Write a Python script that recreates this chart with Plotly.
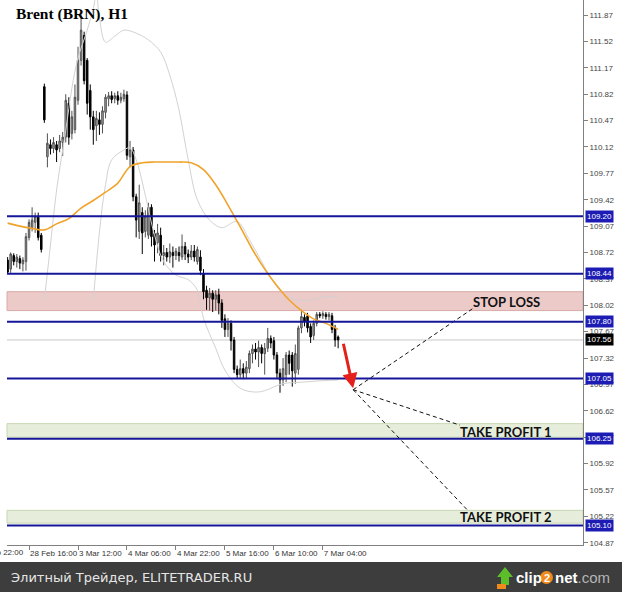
import plotly.graph_objects as go

# ---------------- data ----------------
bar_index = list(range(109))
opens = [108.62,108.50,108.68,108.60,108.64,108.57,108.60,108.92,109.05,109.12,
         109.19,108.95,110.92,109.99,110.15,110.10,110.15,110.10,110.18,110.25,
         110.70,110.30,110.35,110.74,111.27,111.60,111.27,110.87,110.52,110.40,
         110.48,110.42,110.58,110.76,110.80,110.76,110.80,110.74,110.76,110.81,
         109.99,110.08,109.46,109.00,109.25,109.00,108.95,109.32,108.97,108.85,
         108.95,108.68,108.72,108.66,108.72,108.68,108.72,108.66,108.80,108.70,
         108.66,108.74,108.60,108.66,108.44,108.22,108.12,108.18,108.10,108.16,
         108.05,107.84,107.70,107.78,107.56,107.17,107.10,107.18,107.12,107.18,
         107.38,107.44,107.40,107.46,107.38,107.45,107.58,107.55,107.36,107.12,
         107.03,107.10,107.36,107.36,107.12,107.17,107.72,107.86,107.88,107.74,
         107.62,107.78,107.90,107.88,107.90,107.87,107.88,107.72,107.60]
highs = [108.66,108.72,108.71,108.70,108.68,108.66,108.98,109.16,109.32,109.25,
         109.25,108.98,110.96,110.30,110.22,110.25,110.20,110.28,110.32,110.82,
         110.78,110.60,110.95,111.45,111.88,111.65,111.30,110.95,110.60,110.60,
         110.58,110.66,110.82,110.85,110.86,110.84,110.86,110.84,110.88,110.86,
         110.20,110.12,109.50,109.62,109.32,109.28,109.38,109.36,109.02,109.10,
         109.05,108.82,108.78,108.84,108.80,108.78,108.80,108.96,108.86,108.76,
         108.82,108.82,108.80,108.75,108.50,108.28,108.25,108.22,108.22,108.24,
         108.10,107.90,107.85,107.82,107.60,107.22,107.30,107.25,107.28,107.42,
         107.50,107.52,107.55,107.50,107.52,107.72,107.62,107.60,107.40,107.18,
         107.32,107.40,107.42,107.40,107.50,107.75,107.96,107.90,107.92,107.78,
         107.82,107.93,107.93,107.94,107.93,107.93,107.92,107.76,107.62]
lows = [108.44,108.45,108.55,108.52,108.50,108.47,108.48,108.88,109.00,108.98,
        108.88,108.72,110.44,109.85,110.02,110.04,109.92,110.05,110.00,110.18,
        110.15,110.22,110.30,110.68,111.20,110.95,110.55,110.35,110.15,110.20,
        110.28,110.30,110.50,110.66,110.70,110.70,110.68,110.70,110.72,109.95,
        109.85,109.40,108.92,108.90,108.70,108.92,108.90,108.80,108.60,108.71,
        108.60,108.55,108.60,108.58,108.52,108.62,108.60,108.62,108.62,108.58,
        108.62,108.60,108.56,108.42,108.10,107.96,107.95,107.93,107.95,107.90,
        107.72,107.60,107.60,107.42,107.12,107.05,107.05,107.04,107.05,107.12,
        107.25,107.30,107.20,107.25,107.10,107.40,107.45,107.30,107.05,106.86,
        106.95,107.00,107.10,106.94,106.98,107.10,107.65,107.74,107.66,107.52,
        107.56,107.74,107.85,107.84,107.83,107.82,107.65,107.47,107.45]
closes = [108.46,108.70,108.60,108.66,108.58,108.62,108.93,109.12,109.15,109.20,
          108.92,108.76,110.48,110.17,110.10,110.18,110.08,110.20,110.25,110.74,
          110.25,110.52,110.78,111.27,111.67,111.00,110.70,110.52,110.35,110.50,
          110.42,110.60,110.78,110.80,110.75,110.80,110.74,110.78,110.82,110.01,
          110.08,109.46,109.15,109.38,108.98,109.20,109.32,108.93,108.82,108.98,
          108.68,108.72,108.66,108.73,108.68,108.74,108.68,108.80,108.70,108.66,
          108.74,108.66,108.76,108.48,108.20,108.12,108.18,108.10,108.16,108.05,
          107.82,107.70,107.78,107.55,107.17,107.10,107.18,107.12,107.20,107.38,
          107.44,107.40,107.46,107.38,107.45,107.58,107.52,107.36,107.12,107.03,
          107.18,107.36,107.25,107.15,107.38,107.72,107.87,107.80,107.72,107.60,
          107.78,107.90,107.88,107.91,107.87,107.90,107.70,107.56,107.56]

ma_index = [0,4,8,12,16,20,24,28,32,36,40,44,48,52,56,60,64,68,72,76,80,84,88,92,96,100,104,108]
ma_values = [109.11,109.07,109.04,109.02,109.10,109.17,109.31,109.41,109.52,109.64,109.86,109.91,
             109.92,109.92,109.92,109.91,109.82,109.62,109.35,109.06,108.76,108.50,108.28,108.09,
             107.95,107.84,107.78,107.70]

upper_index = [12,14,16,19,21,23,26,28,29,30,32,35,38,42,46,50,53,56,59,62,66,70,75,79,83,87,92,99,104,108]
upper_values = [108.09,108.82,109.55,110.34,110.90,111.30,111.67,111.96,112.14,111.83,111.51,111.59,
                111.67,111.63,111.54,111.38,111.07,110.61,109.95,109.42,109.15,109.05,109.13,108.89,
                108.60,108.32,108.12,108.09,108.14,108.13]
lower_index = [28,30,32,34,38,40,42,45,48,51,55,59,62,64,68,71,76,82,90,96,103,108]
lower_values = [108.09,108.99,109.62,109.95,110.08,110.11,109.95,109.48,108.95,108.60,
                108.42,108.36,108.22,107.85,107.45,107.16,106.92,106.87,106.98,107.00,107.02,107.03]

level_values = [109.20, 108.44, 107.80, 107.05, 106.25, 105.10]
last_price = 107.56
stop_zone = [107.95, 108.20]
tp1_zone = [106.27, 106.45]
tp2_zone = [105.13, 105.30]

tick_prices = [111.87,111.52,111.17,110.82,110.47,110.12,109.77,109.42,109.07,108.72,108.37,
               108.02,107.67,107.32,106.97,106.62,106.27,105.92,105.57,105.22,104.87]
time_tick_index = [7, 23, 39, 55, 71, 87, 103]
time_tick_labels = ["28 Feb 16:00", "3 Mar 12:00", "4 Mar 06:00", "4 Mar 22:00",
                    "5 Mar 16:00", "6 Mar 10:00", "7 Mar 04:00"]
first_time_label = "27 Feb 22:00"

# trade plan: arrow and projections
arrow_from = (109.6, 107.53)
arrow_to = (112.9, 106.92)
fan_origin = (112.9, 106.90)
fan_targets = [(152.1, 107.98), (147.8, 106.43), (150.1, 105.31)]
plan_labels = ["STOP LOSS", "TAKE PROFIT 1", "TAKE PROFIT 2"]
plan_label_pos = [(162.9, 108.06), (162.9, 106.34), (162.9, 105.21)]

# ---------------- geometry ----------------
W, H = 622, 592
ML, MR, MT, MB = 7, 39, 0, 47
PW, PH = W - ML - MR, H - MT - MB
X_RANGE = [-0.2, 188.0]
Y_RANGE = [104.84, 112.07]

def px(xp):
    return (xp - ML) / PW

def py(yp):
    return (H - MB - yp) / PH

fig = go.Figure()

# Bollinger-type envelope
fig.add_trace(go.Scatter(x=upper_index, y=upper_values, mode="lines", line=dict(color="#d2d2d2", width=1, shape="spline"), hoverinfo="skip"))
fig.add_trace(go.Scatter(x=lower_index, y=lower_values, mode="lines", line=dict(color="#d2d2d2", width=1, shape="spline"), hoverinfo="skip"))

# candles
fig.add_trace(go.Candlestick(
    x=bar_index, open=opens, high=highs, low=lows, close=closes,
    increasing=dict(line=dict(color="#505050", width=1), fillcolor="#a8a8a8"),
    decreasing=dict(line=dict(color="#000000", width=1), fillcolor="#000000"),
    whiskerwidth=0, hoverinfo="skip"))

# moving average
fig.add_trace(go.Scatter(x=ma_index, y=ma_values, mode="lines", line=dict(color="#f0a32a", width=1.6, shape="spline"), hoverinfo="skip"))

# projections
fx, fy = [], []
for tx, ty in fan_targets:
    fx += [fan_origin[0], tx, None]
    fy += [fan_origin[1], ty, None]
fig.add_trace(go.Scatter(x=fx, y=fy, mode="lines", line=dict(color="#111111", width=1, dash="4px,3px"), hoverinfo="skip"))

shapes = []
# zones
for (lo, hi), fill, border in [(stop_zone, "#eccac8", "#d9aaa7"), (tp1_zone, "#e6eedb", "#c8d7b3"), (tp2_zone, "#e6eedb", "#c8d7b3")]:
    shapes.append(dict(type="rect", xref="paper", yref="y", x0=0, x1=1, y0=lo, y1=hi,
                       fillcolor=fill, line=dict(color=border, width=1), layer="below"))
# last price line
shapes.append(dict(type="line", xref="paper", yref="y", x0=0, x1=1, y0=last_price, y1=last_price,
                   line=dict(color="#c8c8c8", width=1), layer="below"))
# levels
for lv in level_values:
    shapes.append(dict(type="line", xref="paper", yref="y", x0=0, x1=1, y0=lv, y1=lv,
                       line=dict(color="#16169a", width=2), layer="above"))
# footer band
shapes.append(dict(type="rect", xref="paper", yref="paper", x0=px(0), x1=px(W), y0=py(H), y1=py(562),
                   fillcolor="#3d3d3d", line=dict(width=0), layer="above"))
# clip2net icon
icon = (f"M {px(505)},{py(567)} L {px(513)},{py(577)} L {px(509)},{py(577)} L {px(509)},{py(585)} "
        f"L {px(501)},{py(585)} L {px(501)},{py(577)} L {px(497)},{py(577)} Z")
shapes.append(dict(type="path", xref="paper", yref="paper", path=icon, fillcolor="#5cbf2a", line=dict(width=0), layer="above"))
shapes.append(dict(type="rect", xref="paper", yref="paper", x0=px(497), x1=px(506), y0=py(589), y1=py(584),
                   fillcolor="#f08a1c", line=dict(width=0), layer="above"))
shapes.append(dict(type="circle", xref="paper", yref="paper", x0=px(540), x1=px(553), y0=py(584), y1=py(571),
                   fillcolor="#f08a1c", line=dict(width=0), layer="above"))

annotations = []
# title
annotations.append(dict(xref="paper", yref="paper", x=px(14), y=py(3), xanchor="left", yanchor="top",
                        text="<b>Brent (BRN), H1</b>", showarrow=False,
                        font=dict(family="Liberation Serif", size=15.5, color="#000000")))
# red arrow
annotations.append(dict(x=arrow_to[0], y=arrow_to[1], ax=arrow_from[0], ay=arrow_from[1], xref="x", yref="y",
                        axref="x", ayref="y", showarrow=True, arrowhead=2, arrowsize=1, arrowwidth=3,
                        arrowcolor="#e3201b", text=""))
# plan labels
for (lx, ly), t in zip(plan_label_pos, plan_labels):
    annotations.append(dict(x=lx, y=ly, xref="x", yref="y", text=f"<b>{t}</b>", showarrow=False,
                            font=dict(family="Lato", size=13, color="#111111")))
# level tags
tag_font = "Liberation Sans Narrow, Arial Narrow, Liberation Sans"
for lv in level_values:
    annotations.append(dict(xref="paper", yref="y", x=1, y=lv, xanchor="left", xshift=2, text=f"{lv:.2f}",
                            showarrow=False, bgcolor="#1c1cb4", borderpad=1,
                            font=dict(family=tag_font, size=8, color="#ffffff")))
annotations.append(dict(xref="paper", yref="y", x=1, y=last_price, xanchor="left", xshift=2, text=f"{last_price:.2f}",
                        showarrow=False, bgcolor="#000000", borderpad=1,
                        font=dict(family=tag_font, size=8, color="#ffffff")))
# clipped first time label
annotations.append(dict(xref="paper", yref="paper", x=px(-26), y=py(546), xanchor="left", yanchor="top",
                        text=first_time_label, showarrow=False, font=dict(family=tag_font, size=8, color="#333333")))
# footer texts
annotations.append(dict(xref="paper", yref="paper", x=px(9), y=py(577), xanchor="left", yanchor="middle",
                        text="Элитный Трейдер, ELITETRADER.RU", showarrow=False,
                        font=dict(family="DejaVu Sans", size=13, color="#e6e6e6")))
annotations.append(dict(xref="paper", yref="paper", x=px(514), y=py(577), xanchor="left", yanchor="middle",
                        text="<b>clip</b>", showarrow=False, font=dict(family="Liberation Sans", size=15, color="#ffffff")))
annotations.append(dict(xref="paper", yref="paper", x=px(546.5), y=py(577.5), xanchor="center", yanchor="middle",
                        text="<b>2</b>", showarrow=False, font=dict(family="Liberation Sans", size=11, color="#ffffff")))
annotations.append(dict(xref="paper", yref="paper", x=px(553), y=py(577), xanchor="left", yanchor="middle",
                        text="<b>net</b><span style='color:#b4b4b4'>.com</span>", showarrow=False,
                        font=dict(family="Liberation Sans", size=15, color="#ffffff")))

fig.update_layout(
    width=W, height=H, margin=dict(l=ML, r=MR, t=MT, b=MB, autoexpand=False),
    paper_bgcolor="#ffffff", plot_bgcolor="#ffffff", showlegend=False,
    shapes=shapes, annotations=annotations,
    xaxis=dict(range=X_RANGE, tickmode="array", tickvals=time_tick_index, ticktext=time_tick_labels,
               ticks="outside", ticklen=4, tickcolor="#808080", showline=True, linecolor="#808080",
               showgrid=False, zeroline=False, ticklabelposition="outside right", tickangle=0,
               automargin=False,
               tickfont=dict(family=tag_font, size=8, color="#333333"), rangeslider=dict(visible=False)),
    yaxis=dict(range=Y_RANGE, side="right", tickmode="array", tickvals=tick_prices,
               ticktext=[f"{v:.2f}" for v in tick_prices], ticks="outside", ticklen=4, tickcolor="#808080",
               showline=True, linecolor="#808080", showgrid=False, zeroline=False, automargin=False,
               tickfont=dict(family=tag_font, size=8, color="#444444")),
)

fig.write_html("out.html", config={"displayModeBar": False},
               post_script="document.body.style.margin='0';document.body.style.overflow='hidden';")
